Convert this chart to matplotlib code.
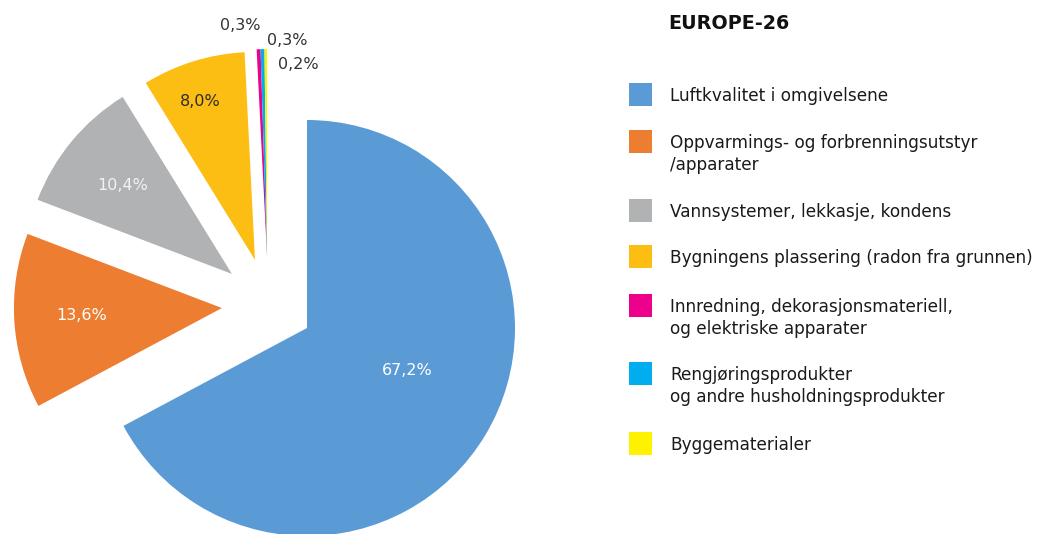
import matplotlib
matplotlib.use("Agg")
import matplotlib.pyplot as plt
from matplotlib.patches import Rectangle

# Data
labels = [
    "Luftkvalitet i omgivelsene",
    "Oppvarmings- og forbrenningsutstyr\n/apparater",
    "Vannsystemer, lekkasje, kondens",
    "Bygningens plassering (radon fra grunnen)",
    "Innredning, dekorasjonsmateriell,\nog elektriske apparater",
    "Rengjøringsprodukter\nog andre husholdningsprodukter",
    "Byggematerialer",
]
values = [67.2, 13.6, 10.4, 8.0, 0.3, 0.3, 0.2]
pct_labels = ["67,2%", "13,6%", "10,4%", "8,0%", "0,3%", "0,3%", "0,2%"]
title = "EUROPE-26"

colors = ["#5B9BD5", "#ED7D31", "#B1B2B4", "#FDBE13", "#EC008C", "#00AEEF", "#FFF200"]
label_colors = ["white", "white", "#F2F2F2", "#2B2B2B", "#333333", "#333333", "#333333"]

# wedge shifts (in radius units), the exploded slices move up/left
shifts = [(0, 0), (-0.409, 0.096), (-0.361, 0.26), (-0.25, 0.327),
          (-0.192, 0.341), (-0.192, 0.341), (-0.192, 0.341)]
# label offsets from each wedge's apex (radius units)
label_offsets = [(0.481, -0.202), (-0.673, -0.034), (-0.524, 0.423), (-0.264, 0.764),
                 (-0.130, 1.111), (0.096, 1.043), (0.149, 0.928)]

W, H = 1040, 534
R = 208.0
cx, cy = 307, 206  # pie centre in pixels from bottom-left

fig = plt.figure(figsize=(W / 100, H / 100), dpi=100)
ax = fig.add_axes([0, 0, 1, 1])

wedges, _ = ax.pie(values, colors=colors, startangle=90, counterclock=False,
                   radius=1.0, wedgeprops=dict(linewidth=0))

for w, (dx, dy), txt, tc, (lx, ly) in zip(wedges, shifts, pct_labels, label_colors, label_offsets):
    w.set_center((dx, dy))
    ax.text(dx + lx, dy + ly, txt, color=tc, fontsize=11.5,
            ha="center", va="center")

ax.set_xlim(-cx / R, (W - cx) / R)
ax.set_ylim(-cy / R, (H - cy) / R)
ax.set_aspect("auto")
ax.axis("off")

# Legend drawn by hand, in pixel positions from the top
fig.text(668 / W, 1 - 29 / H, title, fontsize=13.8, fontweight="bold",
         color="#111111", ha="left", va="baseline")

baselines = [101, 148, 217, 263, 312, 380, 450]
for lab, col, base in zip(labels, colors, baselines):
    top = base - 18
    fig.add_artist(Rectangle((629 / W, 1 - (top + 23) / H), 23 / W, 23 / H,
                             transform=fig.transFigure, facecolor=col, edgecolor="none"))
    for k, line in enumerate(lab.split("\n")):
        fig.text(670 / W, 1 - (base + 22 * k) / H, line, fontsize=12.2,
                 color="#1a1a1a", ha="left", va="baseline")

fig.savefig("out.png", dpi=100)
